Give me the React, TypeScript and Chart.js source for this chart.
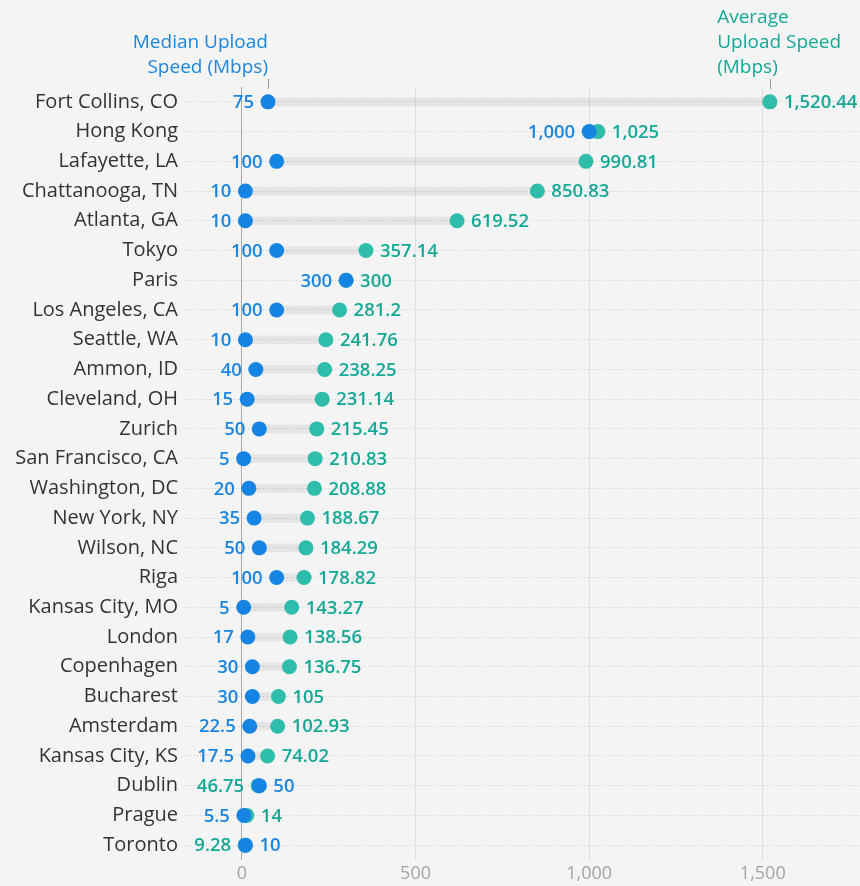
import React, { useEffect, useRef } from "react";
import { Chart, registerables } from "chart.js";

Chart.register(...registerables);

const cities = [
  "Fort Collins, CO", "Hong Kong", "Lafayette, LA", "Chattanooga, TN", "Atlanta, GA",
  "Tokyo", "Paris", "Los Angeles, CA", "Seattle, WA", "Ammon, ID", "Cleveland, OH",
  "Zurich", "San Francisco, CA", "Washington, DC", "New York, NY", "Wilson, NC", "Riga",
  "Kansas City, MO", "London", "Copenhagen", "Bucharest", "Amsterdam", "Kansas City, KS",
  "Dublin", "Prague", "Toronto",
];
const medianSpeed = [
  75, 1000, 100, 10, 10, 100, 300, 100, 10, 40, 15, 50, 5, 20, 35, 50, 100, 5, 17, 30, 30,
  22.5, 17.5, 50, 5.5, 10,
];
const averageSpeed = [
  1520.44, 1025, 990.81, 850.83, 619.52, 357.14, 300, 281.2, 241.76, 238.25, 231.14, 215.45,
  210.83, 208.88, 188.67, 184.29, 178.82, 143.27, 138.56, 136.75, 105, 102.93, 74.02, 46.75,
  14, 9.28,
];
const xTickValues = [0, 500, 1000, 1500];
const medianTitle = ["Median Upload", "Speed (Mbps)"];
const averageTitle = ["Average", "Upload Speed", "(Mbps)"];

const BLUE = "#1684e2";
const TEAL = "#2fbdab";
const BLUE_TEXT = "#1a86e0";
const TEAL_TEXT = "#14a897";
const FONT = "'Open Sans', 'Noto Sans', sans-serif";

const fmt = (v: number) => v.toLocaleString("en-US", { maximumFractionDigits: 2 });

const labelPlugin = {
  id: "dumbbellLabels",
  afterDatasetsDraw(chart: any) {
    const { ctx, scales, chartArea } = chart;
    const x = scales.x;
    const y = scales.y;
    ctx.save();
    ctx.font = `600 18.5px ${FONT}`;
    ctx.textBaseline = "middle";
    cities.forEach((_c, i) => {
      const m = medianSpeed[i];
      const a = averageSpeed[i];
      const yy = y.getPixelForValue(i) + 1;
      const leftIsMedian = m <= a;
      const lv = leftIsMedian ? m : a;
      const rv = leftIsMedian ? a : m;
      ctx.textAlign = "right";
      ctx.fillStyle = leftIsMedian ? BLUE_TEXT : TEAL_TEXT;
      ctx.fillText(fmt(lv), x.getPixelForValue(lv) - 14, yy);
      ctx.textAlign = "left";
      ctx.fillStyle = leftIsMedian ? TEAL_TEXT : BLUE_TEXT;
      ctx.fillText(fmt(rv), x.getPixelForValue(rv) + 14, yy);
    });

    // header titles
    const top = chartArea.top;
    const xm = x.getPixelForValue(medianSpeed[0]);
    const xa = x.getPixelForValue(averageSpeed[0]);
    ctx.font = `500 19px ${FONT}`;
    ctx.fillStyle = BLUE_TEXT;
    ctx.textAlign = "right";
    medianTitle.forEach((line, k) => {
      ctx.fillText(line, xm, top - 19 - (medianTitle.length - 1 - k) * 25.5);
    });
    let maxW = 0;
    averageTitle.forEach((line) => {
      maxW = Math.max(maxW, ctx.measureText(line).width);
    });
    const ax = Math.min(xa, chart.width - maxW - 19);
    ctx.fillStyle = TEAL_TEXT;
    ctx.textAlign = "left";
    averageTitle.forEach((line, k) => {
      ctx.fillText(line, ax, top - 19 - (averageTitle.length - 1 - k) * 25);
    });
    ctx.strokeStyle = "#9a9a9a";
    ctx.lineWidth = 1;
    [xm, xa].forEach((px) => {
      ctx.beginPath();
      ctx.moveTo(Math.round(px) + 0.5, top - 8);
      ctx.lineTo(Math.round(px) + 0.5, top + 2);
      ctx.stroke();
    });
    ctx.restore();
  },
};

export default function App() {
  const canvasRef = useRef<HTMLCanvasElement | null>(null);

  useEffect(() => {
    document.body.style.margin = "0";
    document.body.style.background = "#f4f4f4";
    const canvas = canvasRef.current;
    if (!canvas) return;
    const chart = new Chart(canvas, {
      type: "bar",
      data: {
        labels: cities,
        datasets: [
          {
            type: "line",
            label: "Median Upload Speed (Mbps)",
            data: medianSpeed,
            showLine: false,
            pointRadius: 7.5,
            pointBackgroundColor: BLUE,
            pointBorderWidth: 0,
            clip: false,
            order: 0,
          } as any,
          {
            type: "line",
            label: "Average Upload Speed (Mbps)",
            data: averageSpeed,
            showLine: false,
            pointRadius: 7.5,
            pointBackgroundColor: TEAL,
            pointBorderWidth: 0,
            clip: false,
            order: 1,
          } as any,
          {
            type: "bar",
            label: "range",
            data: medianSpeed.map((m, i) => [Math.min(m, averageSpeed[i]), Math.max(m, averageSpeed[i])]),
            backgroundColor: "rgba(0,0,0,0.06)",
            borderWidth: 0,
            borderSkipped: false,
            barThickness: 8,
            order: 2,
          } as any,
        ],
      },
      options: {
        indexAxis: "y",
        animation: false,
        responsive: true,
        maintainAspectRatio: false,
        events: [],
        layout: { autoPadding: false, padding: { top: 87, right: 0, bottom: 0, left: 0 } },
        plugins: {
          legend: { display: false },
          tooltip: { enabled: false },
        },
        scales: {
          x: {
            type: "linear",
            min: -164,
            max: 1780,
            afterBuildTicks: (scale: any) => {
              scale.ticks = xTickValues.map((v) => ({ value: v }));
            },
            afterFit: (scale: any) => {
              scale.height = 26;
              scale.paddingLeft = 0;
              scale.paddingRight = 0;
            },
            border: { display: false },
            grid: {
              drawTicks: false,
              color: (c: any) => (c.tick && c.tick.value === 0 ? "#a8a8a8" : "#dedede"),
              lineWidth: 1,
            },
            ticks: {
              padding: 3,
              color: "#a3a3a3",
              font: { family: FONT, size: 18 },
              callback: (v: any) => Number(v).toLocaleString("en-US"),
            },
          },
          y: {
            type: "category",
            offset: true,
            afterFit: (scale: any) => {
              scale.width = 185;
              scale.paddingTop = 0;
              scale.paddingBottom = 0;
            },
            border: { display: false, dash: [1, 2] },
            grid: {
              offset: false,
              drawTicks: false,
              color: "#cdcdcd",
              lineWidth: 1,
            },
            ticks: {
              padding: 7,
              color: "#333333",
              font: { family: FONT, size: 20 },
            },
          },
        },
      },
      plugins: [labelPlugin],
    });
    return () => chart.destroy();
  }, []);

  return (
    <div style={{ width: 860, height: 886, background: "#f4f4f4", position: "relative" }}>
      <canvas ref={canvasRef} />
    </div>
  );
}
